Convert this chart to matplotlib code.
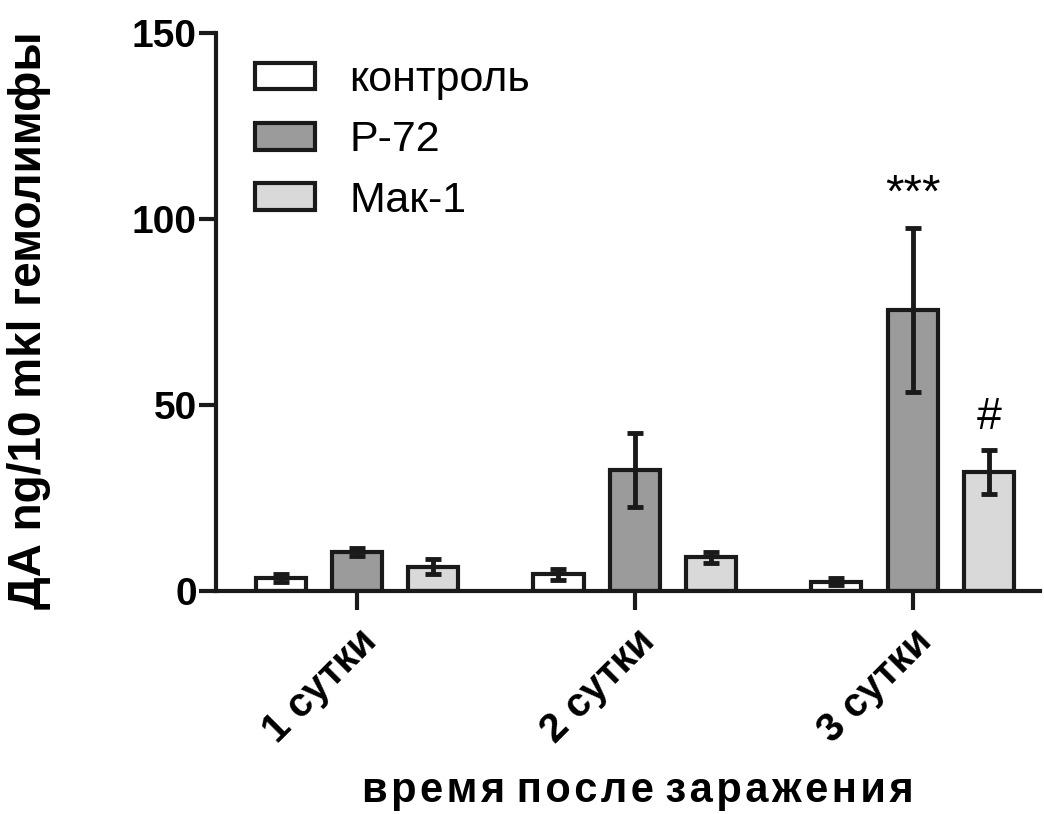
import matplotlib
matplotlib.use("Agg")
import matplotlib.pyplot as plt
import numpy as np

plt.rcParams['font.family'] = ['Liberation Sans', 'DejaVu Sans']

# data
days = ['1 сутки', '2 сутки', '3 сутки']
groups = ['контроль', 'Р-72', 'Мак-1']
control = [3.5, 4.5, 2.5]
control_err = [1.0, 1.5, 1.0]
p72 = [10.5, 32.5, 75.5]
p72_err = [1.0, 10.0, 22.0]
mak1 = [6.5, 9.0, 32.0]
mak1_err = [2.0, 1.5, 6.0]

colors = ['white', '#9a9b9a', '#d9d9d9']
lw = 3.0

fig = plt.figure(figsize=(10.44, 8.14), dpi=100)
ax = fig.add_axes([0.207, 0.274, 0.789, 0.686])

x = np.arange(len(days))
width = 0.18
offset = 0.275
series = [(control, control_err), (p72, p72_err), (mak1, mak1_err)]
for i, (vals, errs) in enumerate(series):
    pos = x + (i - 1) * offset
    ax.bar(pos, vals, width, color=colors[i], edgecolor='#1a1a1a',
           linewidth=lw, label=groups[i], zorder=2)
    ax.errorbar(pos, vals, yerr=errs, fmt='none', ecolor='#1a1a1a',
                elinewidth=3.5, capsize=5.8, capthick=3.5, zorder=3)

# significance marks
ax.text(x[2], 100.5, '***', ha='center', va='bottom', fontsize=34)
ax.text(x[2] + offset, 41, '#', ha='center', va='bottom', fontsize=32)

ax.set_xlim(-0.507, 2.457)
ax.set_ylim(0, 150)
ax.set_yticks([0, 50, 100, 150])
ax.set_xticks(x)
ax.set_xticklabels(days, rotation=45, ha='right', rotation_mode='anchor',
                   fontsize=29, fontweight='bold')
for lab in ax.get_yticklabels():
    lab.set_fontsize(28)
    lab.set_fontweight('bold')

for side in ['top', 'right']:
    ax.spines[side].set_visible(False)
for side in ['left', 'bottom']:
    ax.spines[side].set_linewidth(3)
    ax.spines[side].set_color('#1a1a1a')
ax.tick_params(axis='y', length=12, width=3, color='#1a1a1a', pad=2)
ax.tick_params(axis='x', length=14, width=3, color='#1a1a1a', pad=8)

ax.set_ylabel('ДА ng/10 mkl гемолимфы', fontsize=33, fontweight='bold')
ax.yaxis.set_label_coords(-0.2, 0.485)

hair = '\u200a'
xlab = ' '.join(hair.join(w) for w in 'время после заражения'.split())
ax.set_xlabel(xlab, fontsize=30, fontweight='bold')
ax.xaxis.set_label_coords(0.512, -0.322)

ax.legend(loc='upper left', bbox_to_anchor=(0.0, 1.02), frameon=False,
          fontsize=31, handlelength=1.4, handleheight=0.58,
          handletextpad=0.8, labelspacing=0.47)

fig.savefig('out.png', dpi=100)
